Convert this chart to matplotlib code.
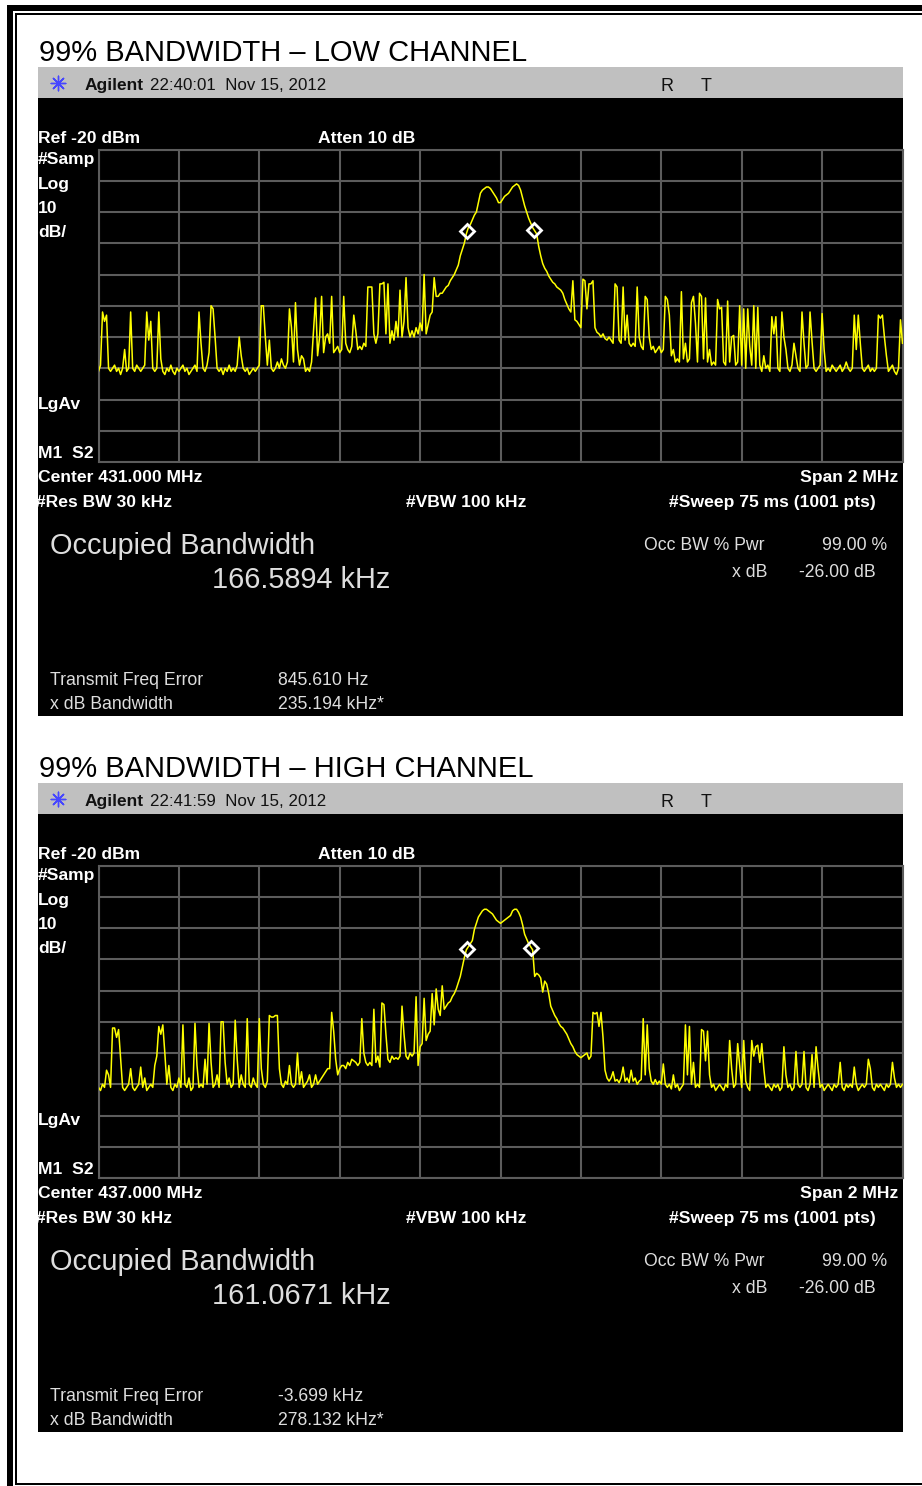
import matplotlib.pyplot as plt
import numpy as np
from matplotlib.patches import Rectangle

W, H = 922, 1486

# analyser settings shared by both captures
SPAN_MHZ = 2.0
REF_DBM = -20
DB_PER_DIV = 10
N_DIV = 10

TITLES = ["99% BANDWIDTH \u2013 LOW CHANNEL", "99% BANDWIDTH \u2013 HIGH CHANNEL"]
STAMPS = ["22:40:01  Nov 15, 2012", "22:41:59  Nov 15, 2012"]
CENTERS_MHZ = [431.0, 437.0]
OBW_KHZ = [166.5894, 161.0671]
FREQ_ERR_KHZ = [0.845610, -3.699]
XDB_BW_KHZ = [235.194, 278.132]

# swept traces, dBm, 401 points across the span
LOW_TRACE = [
    -91, -89, -72, -75, -73, -90, -91, -90, -89, -91, -90, -92, -90, -84, -91, -90, -72, -90, -91, -89,
    -90, -91, -90, -89, -72, -81, -75, -90, -91, -90, -72, -87, -91, -92, -90, -91, -89, -91, -92, -90,
    -91, -90, -89, -91, -90, -92, -91, -90, -89, -91, -72, -82, -90, -91, -89, -85, -70, -71, -80, -90,
    -91, -90, -92, -90, -91, -89, -91, -90, -91, -89, -80, -86, -90, -91, -90, -92, -91, -90, -91, -90,
    -89, -70, -70, -80, -89, -81, -90, -91, -90, -88, -90, -87, -89, -90, -88, -71, -77, -88, -69, -84,
    -89, -86, -87, -91, -90, -91, -88, -78, -67.5, -86, -80, -67, -85, -80, -79, -82, -67, -85, -84, -83,
    -85, -84, -67, -82, -84, -85, -83, -73, -78, -84, -83, -84, -82, -83, -64, -64, -64, -79, -82, -79,
    -63, -63, -62.5, -79, -63, -82, -78, -81, -75, -80, -65, -80, -75, -61, -77, -80, -78, -80, -77, -79,
    -75.5, -78, -60, -79, -76, -73, -72, -61, -67, -67, -66, -66, -65, -64, -63.5, -62, -61, -60, -58.5, -57,
    -54, -52, -50, -47, -45, -44, -42.5, -41, -40, -37, -34, -33, -32.5, -32, -32, -32.5, -33.5, -34.5, -35.5, -37,
    -37, -36, -35, -34.5, -34, -33, -32, -31.5, -31, -31.5, -33, -35.5, -38, -40, -42, -43.5, -45, -46, -47, -51,
    -54, -56.5, -58, -59, -60.5, -61.5, -62.5, -63, -64, -64.5, -65, -66, -68, -69.5, -71, -72, -62, -74.5, -75, -76,
    -77, -61.5, -62, -71, -63, -63, -62, -77, -78.5, -79, -80, -79, -80.5, -81, -80, -81, -82, -63, -64, -81,
    -82, -64, -81, -73, -82, -83, -82, -83, -64, -80, -83, -84, -67, -68, -80, -84, -83, -85, -84, -83,
    -85, -84, -67, -68, -73, -86, -84, -88, -87, -88, -65.5, -87, -82, -88, -87, -69, -67, -75.5, -88, -66,
    -67, -87, -67.5, -88, -84, -89, -88, -89, -68, -71, -70.5, -88, -89, -68.5, -88, -80, -79.5, -89, -88, -70,
    -89, -71, -90, -71, -83, -89, -70, -90, -70.5, -89, -91, -86, -90, -89, -91, -73.5, -79, -73.5, -90, -91,
    -72, -80, -84, -90, -91, -89, -82, -86, -90, -91, -72, -82, -90, -89, -72, -81.5, -90, -91, -90, -89,
    -72.5, -84, -91, -90, -91, -89, -90, -91, -90, -89, -91, -90, -88, -90, -91, -90, -73, -84, -73, -82,
    -90, -91, -90, -89, -91, -90, -91, -90, -73, -74, -73, -80, -86, -91, -90, -89, -91, -92, -90, -74.5,
    -82,
]

HIGH_TRACE = [
    -91, -92, -90, -91, -85.5, -87, -91, -72, -72, -75, -72.5, -82, -91, -92, -91, -90, -85, -91, -92, -91,
    -90, -84.5, -91, -88, -92, -91, -90, -91, -84, -81, -71.5, -74, -71, -80, -90, -84, -91, -92, -90, -91,
    -88, -91, -71, -90, -91, -88, -92, -91, -70.5, -84, -91, -90, -91, -82, -90, -70.5, -83, -91, -90, -87,
    -91, -70, -70, -83, -90, -88, -91, -90, -69.5, -82, -91, -87, -90, -91, -69, -90, -91, -88, -90, -91,
    -69, -85, -90, -91, -89, -68, -68.5, -68.5, -68, -68, -85, -90, -91, -89, -90, -84, -90, -91, -90, -80,
    -90, -86, -91, -90, -89, -87, -91, -90, -87, -90, -89, -88, -87, -86, -85, -85, -67, -73, -82, -87,
    -85, -84, -84, -85, -83, -84, -82, -82.5, -83, -84, -83, -69, -80, -83, -84, -83, -84, -66, -83, -81,
    -84.5, -64, -64.5, -74, -82, -83, -81, -82, -81.5, -82, -81, -65, -74, -81, -82, -80, -81, -80, -62, -84,
    -78, -77, -62.5, -76, -74, -73, -61, -71, -59.5, -66, -68, -58.5, -66, -65, -64, -63.5, -62, -61, -59.5, -57.5,
    -55.5, -52.5, -49.5, -47, -46, -45, -44, -40.5, -38.5, -36.5, -35.5, -34.5, -34, -34, -34.5, -35, -35.5, -36.5, -37.5, -38,
    -38.5, -38, -37.5, -37, -36.5, -36, -34.5, -34, -34, -35, -36.5, -39, -42, -43.5, -45, -46, -47, -55.5, -54.5, -55,
    -56, -60.5, -57, -58, -61, -65, -66.5, -68, -69, -70.5, -71.5, -72, -73, -74, -75.5, -77, -78, -79.5, -80.5, -81,
    -81.5, -81, -80.5, -80, -82, -81, -67, -67.5, -67, -71.5, -67, -75, -85.5, -88, -89, -88, -86, -89, -88.5, -89.5,
    -88, -84.5, -89, -88, -89.5, -85.5, -89, -88, -90, -89, -88.5, -69, -87, -71, -85, -89, -90, -88.5, -90, -89,
    -90, -83.5, -90, -91, -90, -91.5, -87, -91, -90, -92, -91, -90, -71, -87, -71.5, -90, -83, -91, -90, -91,
    -72.5, -73, -82.5, -73, -87, -91, -90, -92, -91, -90, -91, -92, -90, -91, -76, -85, -91, -90, -77, -84,
    -91, -76, -89, -91, -92, -76, -81, -78, -77.5, -83, -77, -85, -91, -90, -91, -92, -90, -91, -90, -92,
    -91, -78, -87, -91, -90, -92, -91, -79.5, -90, -91, -90, -79.5, -91, -92, -90, -80.5, -91, -78, -85, -91,
    -90, -92, -91, -90, -91, -92, -90, -91, -90, -83, -91, -92, -90, -91, -90, -91, -84.5, -90, -92, -91,
    -90, -91, -90, -82, -85, -91, -92, -90, -91, -90, -91, -92, -90, -91, -90, -83, -88, -91, -90, -91,
    -90,
]
TRACES = [LOW_TRACE, HIGH_TRACE]

PANEL_STEP = 716  # vertical distance between the two captures, px

SANS = ["Liberation Sans", "DejaVu Sans"]
GRID = "#5c5c5c"
TXT = "#dedede"


def frac(x, y, w, h):
    # pixel box (top-left origin) -> figure fraction
    return [x / W, 1 - (y + h) / H, w / W, h / H]


def fmt_err(khz):
    if abs(khz) < 1:
        return f"{khz * 1000:.3f} Hz"
    return f"{khz:.3f} kHz"


fig = plt.figure(figsize=(W / 100, H / 100), dpi=100, facecolor="white")
bg = fig.add_axes([0, 0, 1, 1])
bg.set_xlim(0, W)
bg.set_ylim(H, 0)
bg.axis("off")

# page border: heavy outer rule, thin inner rule
bg.add_patch(Rectangle((7, 5), 6, H, color="black", lw=0))
bg.add_patch(Rectangle((7, 5), W, 6, color="black", lw=0))
bg.add_patch(Rectangle((15, 13), 2, H - 13 - 2, color="black", lw=0))
bg.add_patch(Rectangle((15, 13), W, 2, color="black", lw=0))
bg.add_patch(Rectangle((15, 1483), W, 2, color="black", lw=0))

for k in range(2):
    dy = k * PANEL_STEP
    center = CENTERS_MHZ[k]
    trace = np.array(TRACES[k])

    bg.text(39, 61 + dy, TITLES[k], fontsize=21, family=SANS, va="baseline", color="black")

    # instrument header bar and screen
    bg.add_patch(Rectangle((38, 67 + dy), 865, 31, color="#c0c0c0", lw=0))
    bg.add_patch(Rectangle((38, 98 + dy), 865, 618, color="black", lw=0))
    bg.scatter([58], [83 + dy], marker=(8, 2, 0), s=110, color="#4646ff", linewidths=1.0)
    bg.text(85, 90 + dy, "Agilent", fontsize=12.5, family=SANS, weight="bold",
            va="baseline", color="#111111")
    bg.text(150, 90 + dy, STAMPS[k], fontsize=12.2, family=SANS, va="baseline", color="#111111")
    bg.text(660, 91 + dy, "R", fontsize=13, family=SANS, va="baseline", color="#111111")
    bg.text(701, 91 + dy, "T", fontsize=13, family=SANS, va="baseline", color="#111111")

    bold = dict(fontsize=12.6, family=SANS, weight="bold", color="white", va="baseline")
    bg.text(38, 143 + dy, f"Ref {REF_DBM} dBm", **bold)
    bg.text(318, 143 + dy, "Atten 10 dB", **bold)
    for label, yb in [("#Samp", 164), ("Log", 189), (f"{DB_PER_DIV}", 213),
                      ("dB/", 237), ("LgAv", 409), ("M1  S2", 458)]:
        bg.text(38, yb + dy, label, **bold)
    bg.text(38, 482 + dy, f"Center {center:.3f} MHz", **bold)
    bg.text(898, 482 + dy, f"Span {SPAN_MHZ:g} MHz", ha="right", **bold)
    bg.text(36, 507 + dy, "#Res BW 30 kHz", **bold)
    bg.text(406, 507 + dy, "#VBW 100 kHz", **bold)
    bg.text(876, 507 + dy, "#Sweep 75 ms (1001 pts)", ha="right", **bold)

    big = dict(fontsize=20.8, family=SANS, color=TXT, va="baseline")
    bg.text(50, 554 + dy, "Occupied Bandwidth", **big)
    bg.text(212, 588 + dy, f"{OBW_KHZ[k]:.4f} kHz", **big)

    small = dict(fontsize=12.7, family=SANS, color=TXT, va="baseline")
    bg.text(644, 550 + dy, "Occ BW % Pwr", **small)
    bg.text(887, 550 + dy, "99.00 %", ha="right", **small)
    bg.text(767, 577 + dy, "x dB", ha="right", **small)
    bg.text(799, 577 + dy, "-26.00 dB", **small)
    bg.text(50, 685 + dy, "Transmit Freq Error", **small)
    bg.text(278, 685 + dy, fmt_err(FREQ_ERR_KHZ[k]), **small)
    bg.text(50, 709 + dy, "x dB Bandwidth", **small)
    bg.text(278, 709 + dy, f"{XDB_BW_KHZ[k]:.3f} kHz*", **small)

    # graticule
    ax = fig.add_axes(frac(98.5, 149.5 + dy, 804, 312.5))
    ax.set_facecolor("black")
    f_lo, f_hi = center - SPAN_MHZ / 2, center + SPAN_MHZ / 2
    bottom = REF_DBM - N_DIV * DB_PER_DIV
    ax.set_xlim(f_lo, f_hi)
    ax.set_ylim(bottom, REF_DBM)
    ax.set_xticks(np.linspace(f_lo, f_hi, N_DIV + 1))
    ax.set_yticks(np.linspace(bottom, REF_DBM, N_DIV + 1))
    ax.tick_params(length=0, labelbottom=False, labelleft=False)
    ax.grid(True, color=GRID, lw=1.5)
    for sp in ax.spines.values():
        sp.set_color(GRID)
        sp.set_linewidth(1.5)

    freqs = np.linspace(f_lo, f_hi, len(trace))
    ax.plot(freqs, trace, color="#ffff00", lw=1.1, zorder=3)

    # occupied-bandwidth edge markers
    obw_mid = center + FREQ_ERR_KHZ[k] / 1000
    edges = np.array([obw_mid - OBW_KHZ[k] / 2000, obw_mid + OBW_KHZ[k] / 2000])
    ax.plot(edges, np.interp(edges, freqs, trace), ls="none", marker="D", ms=7.5,
            mfc="none", mec="white", mew=2.0, zorder=4)

fig.savefig("out.png", dpi=100, facecolor="white")
